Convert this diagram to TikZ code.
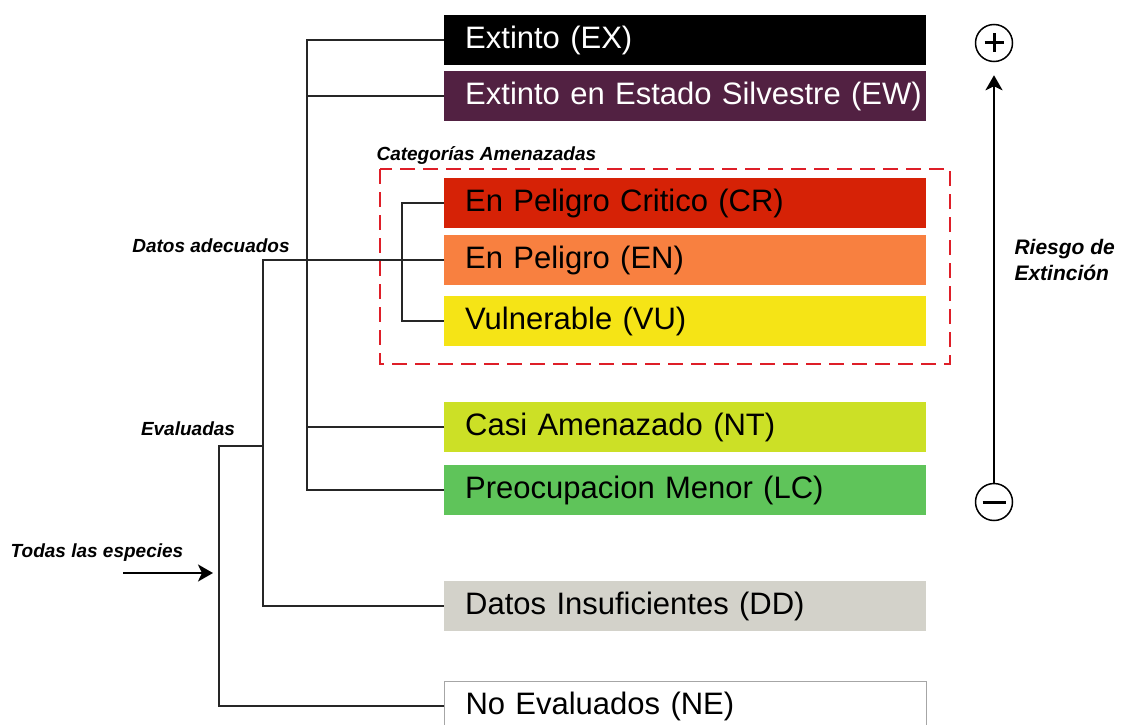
\documentclass[tikz,border=0pt]{standalone}
\usepackage{fontspec}
\setmainfont{Liberation Sans}
\usepackage{tikz}
\usetikzlibrary{arrows.meta}
\tikzset{>={Stealth[length=15pt,width=17pt,inset=4pt]}}

\definecolor{colEW}{RGB}{82,33,66}
\definecolor{colCR}{RGB}{214,34,6}
\definecolor{colEN}{RGB}{248,128,64}
\definecolor{colVU}{RGB}{245,228,22}
\definecolor{colNT}{RGB}{204,224,38}
\definecolor{colLC}{RGB}{95,196,90}
\definecolor{colDD}{RGB}{211,210,202}
\definecolor{colAmenaza}{RGB}{222,30,40}

\begin{document}
\begin{tikzpicture}[x=1pt,y=-1pt,
    cat/.style={anchor=west,minimum height=50pt,text width=482pt,inner xsep=0pt,inner ysep=0pt,
        align=left,font=\fontsize{31}{36}\selectfont,
        execute at begin node={\hspace*{21pt}\hbox\bgroup},execute at end node={\egroup}},
    link/.style={draw=black!85,line width=1.4pt},
    lbl/.style={font=\fontsize{19}{23}\selectfont\bfseries\itshape},
    signo/.style={circle,draw,line width=1.5pt,minimum size=37pt,inner sep=0pt}]
    \useasboundingbox (0,0) rectangle (1129,725);
    \clip (0,0) rectangle (1129,725);

    % categorias
    \node[cat,fill=black,text=white] (ex) at (444,40) {Extinto (EX)};
    \node[cat,fill=colEW,text=white] (ew) at (444,96) {Extinto en Estado Silvestre (EW)};
    \node[cat,fill=colCR] (cr) at (444,203) {En Peligro Critico (CR)};
    \node[cat,fill=colEN] (en) at (444,260) {En Peligro (EN)};
    \node[cat,fill=colVU] (vu) at (444,321) {Vulnerable (VU)};
    \node[cat,fill=colNT] (nt) at (444,427) {Casi Amenazado (NT)};
    \node[cat,fill=colLC] (lc) at (444,490) {Preocupacion Menor (LC)};
    \node[cat,fill=colDD] (dd) at (444,606) {Datos Insuficientes (DD)};
    \node[cat,draw=black!35,line width=1pt] (ne) at (444,706) {No Evaluados (NE)};

    % amenazadas
    \draw[colAmenaza,line width=2.4pt,dash pattern=on 15pt off 8pt] (380,169) rectangle (950,364);
    \node[lbl,anchor=west] (amen) at (373,156) {Categorías Amenazadas};

    % arbol
    \coordinate (kA) at (307,0);
    \coordinate (kB) at (263,0);
    \coordinate (kC) at (402,0);
    \coordinate (kD) at (219,0);
    \coordinate (eval) at (263,446);
    \coordinate (todas) at (123,573);

    \draw[link] (ex.west) -| (kA |- lc.west) -- (lc.west);
    \draw[link] (ew.west) -- (ew.west -| kA);
    \draw[link] (nt.west) -- (nt.west -| kA);
    \draw[link] (en.west) -| (kB |- dd.west) -- (dd.west);
    \draw[link] (cr.west) -| (kC |- vu.west) -- (vu.west);
    \draw[link] (ne.west) -| (eval -| kD) -- (eval);
    \draw[->,line width=2.4pt,shorten >=6pt] (todas) -- (todas -| kD);

    \node[lbl] (datos) at (211,246) {Datos adecuados};
    \node[lbl] (evaluadas) at (188,429) {Evaluadas};
    \node[lbl] (especies) at (97,553) {Todas las especies};

    % riesgo
    \node[signo] (mas) at (994,43) {};
    \node[signo] (menos) at (994,502) {};
    \draw[line width=3pt] (mas.center) +(-9.5,0) -- +(9.5,0) +(0,-9.5) -- +(0,9.5);
    \draw[line width=3pt] (menos.center) +(-11.5,0) -- +(11.5,0);
    \draw[->,line width=2.6pt,shorten >=13pt] (menos) -- (mas);
    \node[font=\fontsize{21}{26}\selectfont\bfseries\itshape,anchor=west,align=left] (riesgo) at (1011,260) {Riesgo de\\Extinción};
\end{tikzpicture}
\end{document}
